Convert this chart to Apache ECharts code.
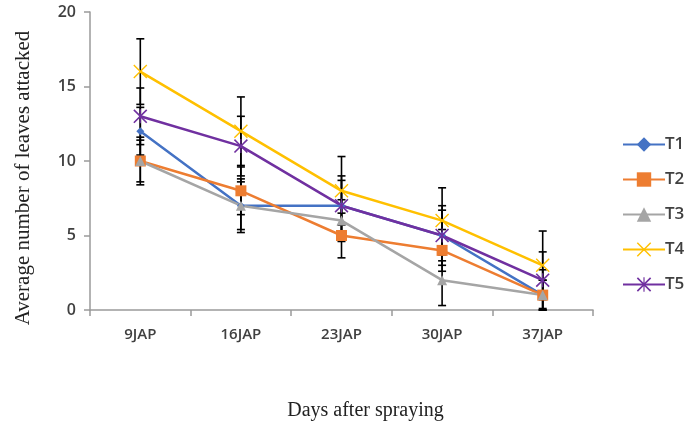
<!DOCTYPE html>
<html>
<head>
<meta charset="utf-8">
<script src="https://cdn.jsdelivr.net/npm/echarts@6/dist/echarts.min.js"></script>
<style>html,body{margin:0;padding:0;background:#fff}#c{width:700px;height:430px}</style>
</head>
<body>
<div id="c"></div>
<script>
var categories = ['9JAP', '16JAP', '23JAP', '30JAP', '37JAP'];
var seriesNames = ['T1', 'T2', 'T3', 'T4', 'T5'];
var T1 = [12, 7, 7, 5, 1];
var T2 = [10, 8, 5, 4, 1];
var T3 = [10, 7, 6, 2, 1];
var T4 = [16, 12, 8, 6, 3];
var T5 = [13, 11, 7, 5, 2];
var T1err = [1.6, 1.8, 1.7, 1.7, 1.7];
var T2err = [1.4, 1.6, 1.5, 1.4, 1.0];
var T3err = [1.6, 1.6, 1.4, 1.7, 1.0];
var T4err = [2.2, 2.3, 2.3, 2.2, 2.3];
var T5err = [1.9, 2.0, 2.0, 2.0, 1.9];
var yTicks = [0, 5, 10, 15, 20];

var values = [T1, T2, T3, T4, T5];
var errs = [T1err, T2err, T3err, T4err, T5err];
var colors = ['#4472C4', '#ED7D31', '#A5A5A5', '#FFC000', '#7030A0'];
var xPath = 'path://M0,0.7L0.7,0L5,4.3L9.3,0L10,0.7L5.7,5L10,9.3L9.3,10L5,5.7L0.7,10L0,9.3L4.3,5Z';
var starPath = 'path://M0,0.8L0.8,0L4.6,3.8L4.6,0L5.4,0L5.4,3.8L9.2,0L10,0.8L5.8,5L10,9.2L9.2,10L5.4,6.2L5.4,10L4.6,10L4.6,6.2L0.8,10L0,9.2L4.2,5Z';
var symbols = ['diamond', 'rect', 'triangle', xPath, starPath];
var symbolSizes = [8, 11, 10, 14, 14];

var series = [];
values.forEach(function (vals, i) {
  var errData = vals.map(function (v, j) {
    return [j, Math.max(0, v - errs[i][j]), v + errs[i][j]];
  });
  series.push({
    name: seriesNames[i] + ' err',
    type: 'custom',
    z: 1,
    silent: true,
    data: errData,
    encode: { x: 0, y: [1, 2] },
    renderItem: function (params, api) {
      var lo = api.coord([api.value(0), api.value(1)]);
      var hi = api.coord([api.value(0), api.value(2)]);
      var w = 4;
      var st = { stroke: '#000', lineWidth: 1.6 };
      return {
        type: 'group',
        children: [
          { type: 'line', shape: { x1: hi[0], y1: hi[1], x2: lo[0], y2: lo[1] }, style: st },
          { type: 'line', shape: { x1: hi[0] - w, y1: hi[1], x2: hi[0] + w, y2: hi[1] }, style: st },
          { type: 'line', shape: { x1: lo[0] - w, y1: lo[1], x2: lo[0] + w, y2: lo[1] }, style: st }
        ]
      };
    }
  });
});
values.forEach(function (vals, i) {
  series.push({
    name: seriesNames[i],
    type: 'line',
    z: 3,
    data: vals,
    symbol: symbols[i],
    symbolSize: symbolSizes[i],
    showAllSymbol: true,
    lineStyle: { color: colors[i], width: 2.5 },
    itemStyle: { color: colors[i] }
  });
});

var chart = echarts.init(document.getElementById('c'), null, { renderer: 'canvas' });
chart.setOption({
  animation: false,
  backgroundColor: '#fff',
  grid: { left: 90, right: 107, top: 12, bottom: 120 },
  legend: {
    data: seriesNames,
    orient: 'vertical',
    left: 617,
    top: 131,
    itemGap: 18,
    itemWidth: 42,
    itemHeight: 18,
    textStyle: { fontFamily: 'Open Sans', fontSize: 17, fontWeight: 600, color: '#404040', padding: [0, 0, 0, -5] }
  },
  xAxis: {
    type: 'category',
    data: categories,
    boundaryGap: true,
    name: 'Days after spraying',
    nameLocation: 'middle',
    nameGap: 91,
    nameTextStyle: { fontFamily: 'Liberation Serif', fontSize: 20, color: '#222', padding: [0, 0, 0, 48] },
    axisLine: { lineStyle: { color: '#9a9a9a', width: 1.5 } },
    axisTick: { show: true, length: 6, lineStyle: { color: '#9a9a9a', width: 1.5 } },
    axisLabel: { margin: 17, fontFamily: 'Open Sans', fontSize: 15, fontWeight: 600, color: '#404040' }
  },
  yAxis: {
    type: 'value',
    min: yTicks[0],
    max: yTicks[yTicks.length - 1],
    interval: 5,
    name: 'Average number of leaves attacked',
    nameLocation: 'middle',
    nameGap: 56,
    nameTextStyle: { fontFamily: 'Liberation Serif', fontSize: 21, color: '#222', padding: [0, 34, 0, 0] },
    splitLine: { show: false },
    axisLine: { show: true, lineStyle: { color: '#9a9a9a', width: 1.5 } },
    axisTick: { show: true, length: 6, lineStyle: { color: '#9a9a9a', width: 1.5 } },
    axisLabel: { margin: 14, fontFamily: 'Open Sans', fontSize: 16, fontWeight: 600, color: '#404040' }
  },
  series: series
});
</script>
</body>
</html>
